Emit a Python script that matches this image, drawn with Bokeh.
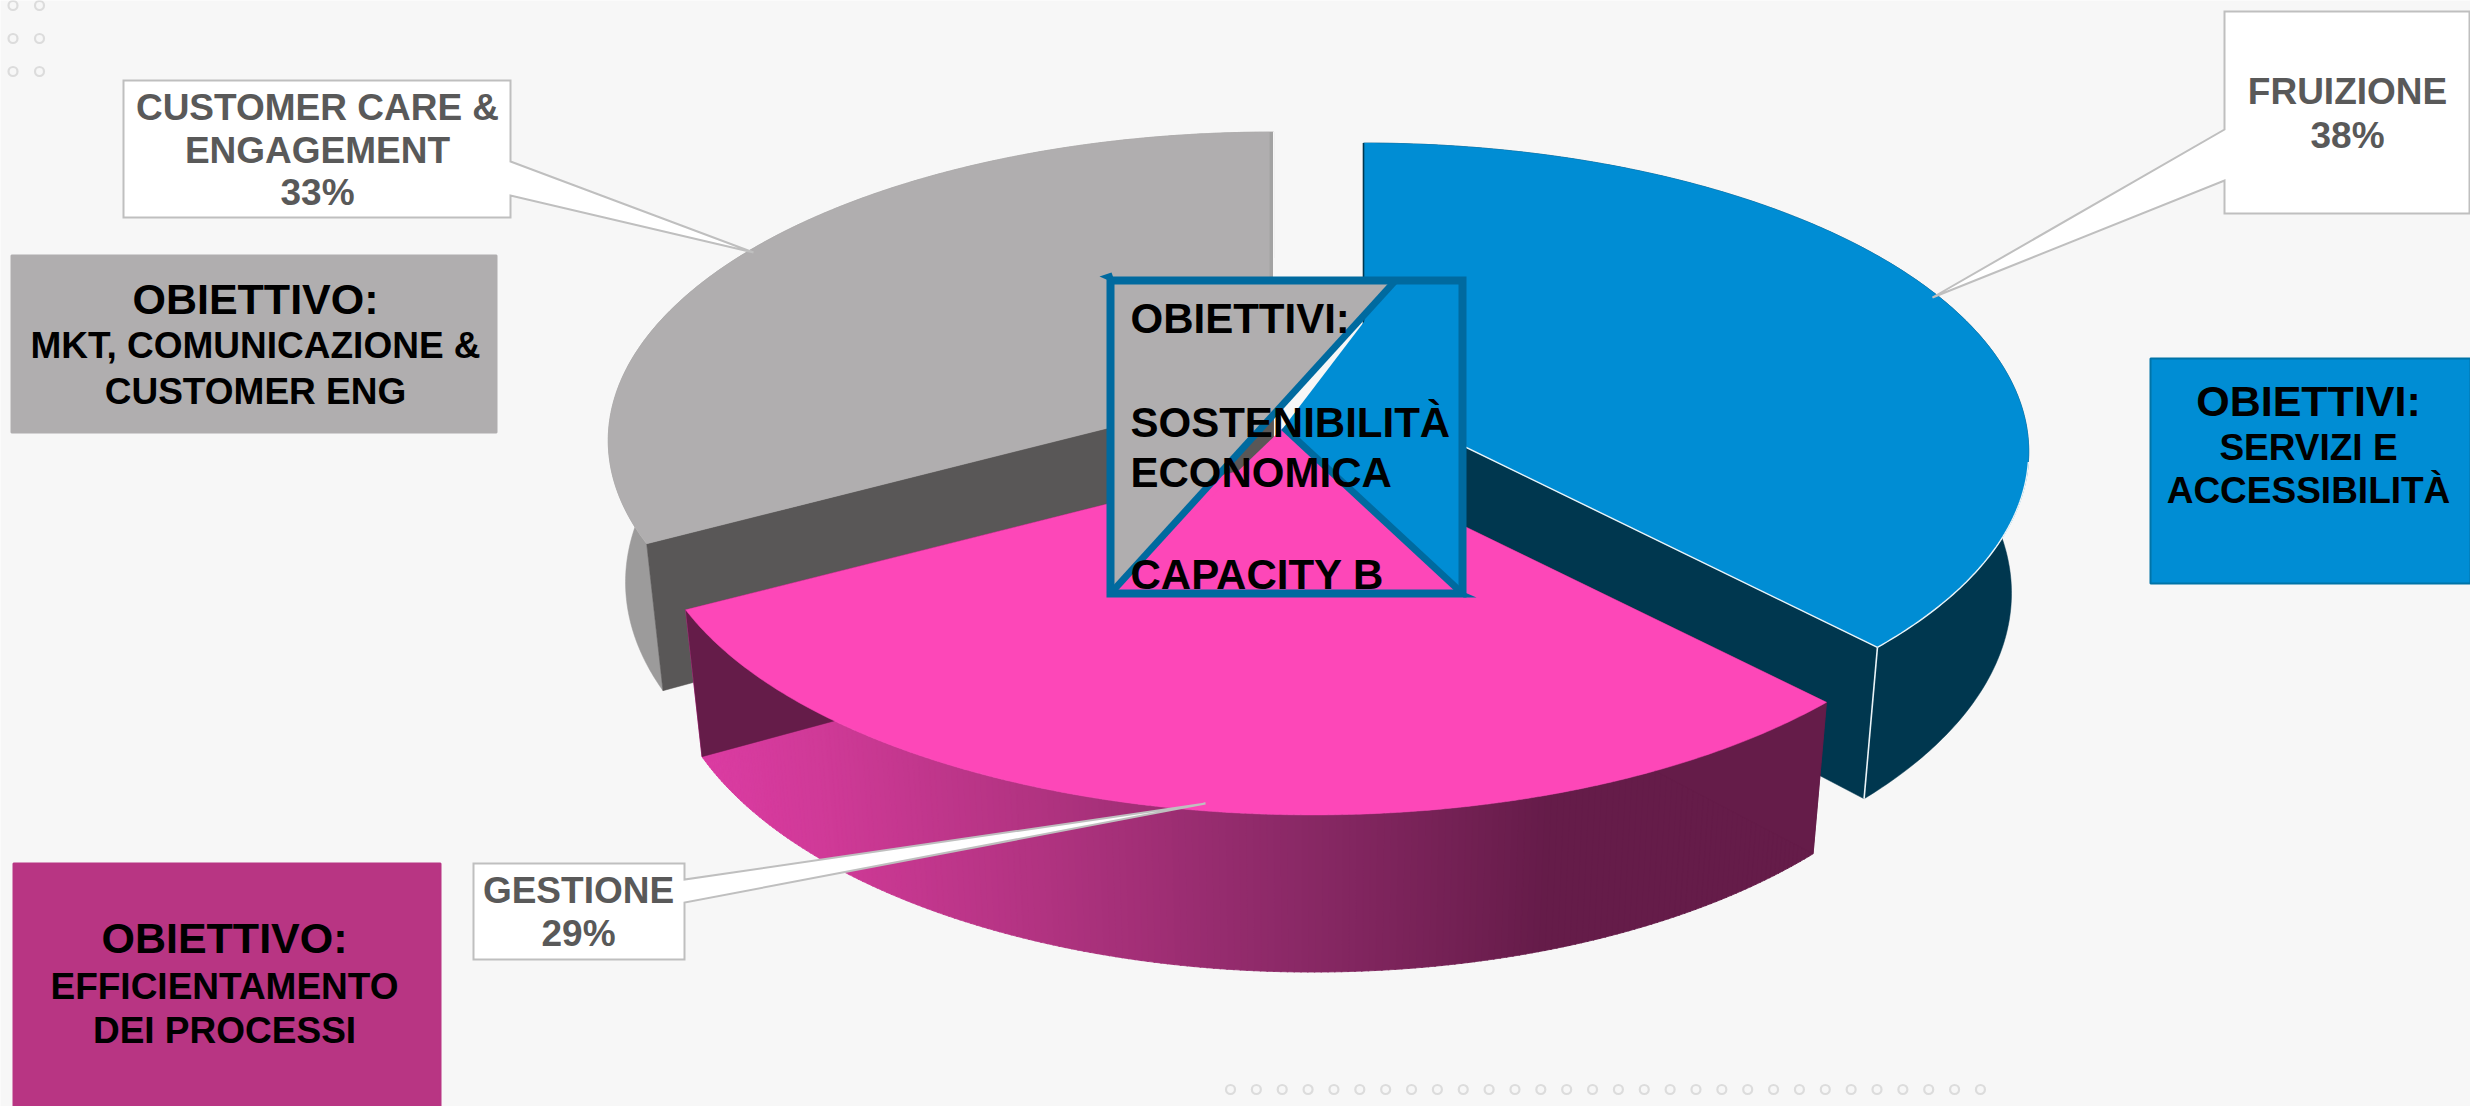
import numpy as np
from bokeh.core.properties import value
from bokeh.embed import file_html
from bokeh.plotting import figure
from bokeh.resources import INLINE

# Slice data, clockwise from twelve o'clock
slice_names = ["FRUIZIONE", "GESTIONE", "CUSTOMER CARE & ENGAGEMENT"]
slice_shares = [38, 29, 33]

# Slice styling: top face, cut wall, rim wall
top_colors = ["#008dd4", "#fd47b8", "#b0aeaf"]
cut_colors = ["#00374f", "#651c49", "#595757"]
rim_colors = ["#00374f", "#651c49", "#9c9b9b"]

# Exploded apex of each slice, in page pixels
apex_x = [1363, 1312, 1273]
apex_y = [397, 452, 386]

# Perspective of the disc
RADIUS_X, RADIUS_Y, TILT = 655.0, 299.0, 0.175
FLOOR_SCALE_X, FLOOR_SCALE_Y, FLOOR_DROP = 0.974, 1.05, 139.0

# Horizontal shading along the pink rim
rim_stop_x = [690, 830, 1050, 1300, 1550, 1830]
rim_stop_r = [0xdc, 0xcf, 0xb0, 0x8a, 0x65, 0x65]
rim_stop_g = [0x3c, 0x3a, 0x33, 0x29, 0x1c, 0x1c]
rim_stop_b = [0xa3, 0x97, 0x80, 0x66, 0x49, 0x49]

PAGE = "#f7f7f7"
FONT = value("Liberation Sans")


def project(angle_deg, apex, floor=False):
    angle = np.radians(angle_deg)
    u, v = np.sin(angle), -np.cos(angle)
    scale = 1.0 / (1.0 - TILT * v)
    dx, dy = RADIUS_X * u * scale, RADIUS_Y * v * scale
    if floor:
        dx, dy = dx * FLOOR_SCALE_X, dy * FLOOR_SCALE_Y + FLOOR_DROP
    return apex[0] + dx, apex[1] + dy


p = figure(width=2470, height=1106, x_range=(0, 2470), y_range=(1106, 0),
           output_backend="svg", toolbar_location=None, min_border=0,
           background_fill_color=PAGE, border_fill_color=PAGE, outline_line_color=None)
p.axis.visible = False
p.grid.visible = False


def write(x, y, text, size, color="#000000", align="center"):
    p.text([x], [y], text=[text], text_font=FONT, text_font_style="bold",
           text_font_size=f"{size}px", text_color=color,
           text_align=align, text_baseline="middle")


# Decorative dot rows
dot_x = [12.5, 39, 12.5, 39, 12.5, 39] + [1230 + 25.86 * i for i in range(30)] * 2
dot_y = [5, 5, 38, 38, 71, 71] + [1089] * 30 + [1112] * 30
p.scatter(dot_x, dot_y, size=9, fill_color=None, line_color="#dcdcdc", line_width=2.2)

# Cumulative slice angles
edges = np.concatenate([[0.0], np.cumsum(slice_shares)]) / sum(slice_shares) * 360.0
draw_order = [2, 0, 1]

for idx in draw_order:
    start, end = edges[idx], edges[idx + 1]
    apex = (apex_x[idx], apex_y[idx])
    sweep = np.linspace(start, end, 240)
    top_x, top_y = project(sweep, apex)
    low_x, low_y = project(sweep, apex, floor=True)

    # Outer rim
    if idx == 1:
        for a0, a1 in zip(np.arange(start, end, 0.5), np.arange(start, end, 0.5) + 0.6):
            a1 = min(a1, end)
            ax, ay = project(np.array([a0, a1]), apex)
            bx, by = project(np.array([a1, a0]), apex, floor=True)
            xs = np.concatenate([ax, bx])
            mid = float(xs.mean())
            r = np.interp(mid, rim_stop_x, rim_stop_r)
            g = np.interp(mid, rim_stop_x, rim_stop_g)
            b = np.interp(mid, rim_stop_x, rim_stop_b)
            shade = f"#{int(r):02x}{int(g):02x}{int(b):02x}"
            p.patch(xs, np.concatenate([ay, by]), fill_color=shade, line_color=shade, line_width=0.8)
    else:
        p.patch(np.concatenate([top_x, low_x[::-1]]), np.concatenate([top_y, low_y[::-1]]),
                fill_color=rim_colors[idx], line_color=rim_colors[idx], line_width=0.5)

    # Cut walls at both ends of the slice
    for edge in (start, end):
        ex, ey = project(edge, apex)
        fx, fy = project(edge, apex, floor=True)
        p.patch([apex[0], ex, fx, apex[0]], [apex[1], ey, fy, apex[1] + FLOOR_DROP],
                fill_color=cut_colors[idx], line_color=cut_colors[idx], line_width=0.5)

    # Top face
    p.patch(np.concatenate([[apex[0]], top_x]), np.concatenate([[apex[1]], top_y]),
            fill_color=top_colors[idx], line_color=top_colors[idx], line_width=0.5)

    # Edge highlights
    cx, cy = project(end, apex)
    dx, dy = project(end, apex, floor=True)
    if idx == 0:
        rim_part = np.linspace(102, end, 60)
        hx, hy = project(rim_part, apex)
        p.line(hx, hy, line_color="#eaf4f8", line_width=1.4)
        p.line([apex[0], cx], [apex[1], cy], line_color="#eaf4f8", line_width=1.4)
        p.line([cx, dx], [cy, dy], line_color="#eaf4f8", line_width=1.6)
        sx, sy = project(start, apex)
        p.line([sx, apex[0]], [sy, apex[1]], line_color=cut_colors[0], line_width=1.6)
    if idx == 2:
        p.line([cx, dx], [cy, dy], line_color="#c4c4c4", line_width=1.2)
        sx, sy = project(end, apex)
        p.line([sx - 2, apex[0] - 2], [sy, apex[1]], line_color="#a3a3a3", line_width=4)
        p.line([sx, apex[0]], [sy, apex[1]], line_color=PAGE, line_width=1)

# Coloured objective panels
panel_left = [11, 2150, 13]
panel_right = [496, 2470, 440]
panel_top = [255, 358, 863]
panel_bottom = [432, 583, 1106]
panel_fill = ["#b0aeaf", "#008dd4", "#b83583"]
panel_line = ["#b0aeaf", "#0074a8", "#b83583"]
p.quad(left=panel_left, right=panel_right, top=panel_top, bottom=panel_bottom,
       fill_color=panel_fill, line_color=panel_line, line_width=2)

panel_titles = ["OBIETTIVO:", "OBIETTIVI:", "OBIETTIVO:"]
panel_title_x = [255, 2308, 224]
panel_title_y = [298, 400, 937]
panel_lines = [["MKT, COMUNICAZIONE &", "CUSTOMER ENG"],
               ["SERVIZI E", "ACCESSIBILITÀ"],
               ["EFFICIENTAMENTO", "DEI PROCESSI"]]
panel_line_y = [[345, 391], [447, 490], [986, 1030]]
for title, x, y, lines, ys in zip(panel_titles, panel_title_x, panel_title_y, panel_lines, panel_line_y):
    write(x, y, title, 43)
    for line, ly in zip(lines, ys):
        write(x, ly, line, 37)

# Callouts: white box with a wedge running to the slice
callout_boxes = [(2224, 2469, 11, 213), (473, 684, 863, 959), (123, 510, 80, 217)]
callout_tips = [(1932, 297), (1205, 803), (753, 252)]
callout_bases = [("left", 129, 180), ("right", 879, 902), ("right", 161, 195)]
for (l, r, t, b), (tx, ty), (side, y0, y1) in zip(callout_boxes, callout_tips, callout_bases):
    if side == "left":
        xs = [l, r, r, l, l, tx, l]
        ys = [t, t, b, b, y1, ty, y0]
    else:
        xs = [l, r, r, tx, r, r, l]
        ys = [t, t, y0, ty, y1, b, b]
    p.patch(xs, ys, fill_color="#ffffff", line_color="#bfbfbf", line_width=2, line_join="miter")

callout_lines = [[slice_names[0], f"{slice_shares[0]}%"],
                 [slice_names[1], f"{slice_shares[1]}%"],
                 ["CUSTOMER CARE &", "ENGAGEMENT", f"{slice_shares[2]}%"]]
callout_text_x = [2347, 578, 317]
callout_text_y = [[91, 135], [890, 933], [107, 150, 192]]
for lines, x, ys in zip(callout_lines, callout_text_x, callout_text_y):
    for line, y in zip(lines, ys):
        write(x, y, line, 37, color="#595959")

# Central badge split into the three slice colours
BL, BR, BT, BB = 1110, 1462, 280, 593
split_top_x, split_mid_x, split_mid_y = 1395, 1283, 427
p.patch([BL, split_top_x, BL], [BT, BT, BB], fill_color=top_colors[2], line_color=None)
p.patch([split_top_x, BR, BR, split_mid_x], [BT, BT, BB, split_mid_y], fill_color=top_colors[0], line_color=None)
p.patch([BL, split_mid_x, BR], [BB, split_mid_y, BB], fill_color=top_colors[1], line_color=None)
BADGE = "#006a9f"
p.line([BL, split_top_x], [BB, BT], line_color=BADGE, line_width=7)
p.line([split_mid_x, BR], [split_mid_y, BB], line_color=BADGE, line_width=7)
p.patch([BL, BR, BR, BL, BL], [BT, BT, BB, BB, BT], fill_color=None, line_color=BADGE,
        line_width=8, line_join="miter")
p.patch([1099, 1111, 1115], [276, 272, 283], fill_color=BADGE, line_color=None)
p.patch([1106, 1110, 1113], [592, 588, 580], fill_color=BADGE, line_color=None)
p.patch([1455, 1476, 1463], [588, 597, 597], fill_color=BADGE, line_color=None)

badge_lines = ["OBIETTIVI:", "SOSTENIBILITÀ", "ECONOMICA", "CAPACITY B"]
badge_y = [318, 422, 472, 574]
for line, y in zip(badge_lines, badge_y):
    write(1130, y, line, 42, align="left")

open("out.html", "w").write(file_html(p, INLINE))
